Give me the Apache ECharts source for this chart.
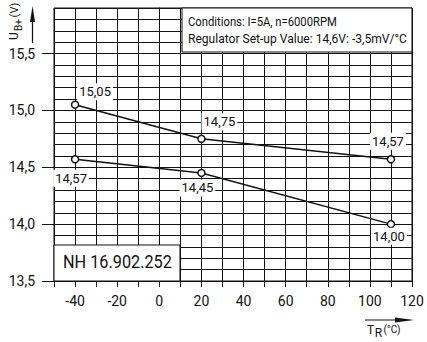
<!DOCTYPE html>
<html>
<head>
<meta charset="utf-8">
<script src="https://cdn.jsdelivr.net/npm/echarts@6/dist/echarts.min.js"></script>
<style>
  html, body { margin: 0; padding: 0; background: #fff; }
  #chart { width: 427px; height: 342px; }
</style>
</head>
<body>
<div id="chart"></div>
<script>
// values
const tempC = [-40, 20, 110];
const voltsUpper = [15.05, 14.75, 14.57];
const voltsLower = [14.57, 14.45, 14.00];
const yMajorTicks = [13.5, 14.0, 14.5, 15.0, 15.5];
const xLabelTicks = [-40, -20, 0, 20, 40, 60, 80, 100, 120];
const conditionLines = ['Conditions: I=5A, n=6000RPM', 'Regulator Set-up Value: 14,6V: -3,5mV/°C'];
const partNo = 'NH 16.902.252';

// label offsets (px) from each point
const upperOffsets = [[20, -13], [18, -17], [-3, -18]];
const lowerOffsets = [[-4, 19], [-4, 15], [-2, 12]];

const FONT = "Roboto, 'Liberation Sans', sans-serif";
const INK = '#111';

function comma(v, d) {
    return v.toFixed(d).replace('.', ',');
}

// squeeze a text horizontally so it spans a given width (drawing uses a narrow lettering)
const measureCtx = document.createElement('canvas').getContext('2d');
function squeeze(text, size, width) {
    measureCtx.font = size + 'px ' + FONT;
    return width / measureCtx.measureText(text).width;
}

function buildData(ys, offsets) {
    return tempC.map((x, i) => ({
        value: [x, ys[i]],
        label: { offset: offsets[i], formatter: comma(ys[i], 2) }
    }));
}

function lineSeries(name, ys, offsets) {
    return {
        name: name,
        type: 'line',
        data: buildData(ys, offsets),
        symbol: 'circle',
        symbolSize: 7,
        z: 5,
        lineStyle: { color: INK, width: 1.5 },
        itemStyle: { color: '#fff', borderColor: INK, borderWidth: 1.5 },
        label: {
            show: true,
            position: 'inside',
            align: 'center',
            verticalAlign: 'middle',
            fontFamily: FONT,
            fontSize: 13,
            color: INK,
            backgroundColor: '#fff',
            padding: [2, 2]
        }
    };
}

const chart = echarts.init(document.getElementById('chart'), null, { renderer: 'svg' });

const option = {
    animation: false,
    backgroundColor: '#fff',
    grid: { left: 54, right: 15, top: 8, bottom: 61, show: true, borderColor: INK, borderWidth: 1, backgroundColor: 'transparent' },
    xAxis: {
        type: 'value',
        min: -50,
        max: 120,
        interval: 10,
        axisLine: { lineStyle: { color: INK, width: 1 } },
        axisTick: { show: true, length: 6, inside: false, lineStyle: { color: INK } },
        axisLabel: {
            fontFamily: FONT, fontSize: 14, color: INK, margin: 13,
            formatter: v => (xLabelTicks.indexOf(v) >= 0 ? String(v) : '')
        },
        splitLine: { show: true, lineStyle: { color: INK, width: 1 } }
    },
    yAxis: [
        {
            type: 'value',
            min: 13.5,
            max: 15.9,
            interval: 0.1,
            axisLine: { show: true, lineStyle: { color: INK, width: 1 } },
            axisTick: { show: true, length: 4, lineStyle: { color: INK } },
            axisLabel: {
                fontFamily: FONT, fontSize: 14, color: INK, margin: 19,
                formatter: v => (yMajorTicks.some(t => Math.abs(t - v) < 1e-6) ? comma(v, 1) : '')
            },
            splitLine: { show: true, lineStyle: { color: INK, width: 1 } }
        },
        {
            type: 'value',
            position: 'left',
            min: 13.5,
            max: 15.9,
            interval: 0.5,
            axisLine: { show: false },
            axisTick: { show: true, length: 12, customValues: yMajorTicks, lineStyle: { color: INK } },
            axisLabel: { show: false },
            splitLine: { show: false }
        }
    ],
    series: [
        lineSeries('upper', voltsUpper, upperOffsets),
        lineSeries('lower', voltsLower, lowerOffsets)
    ],
    graphic: [
        // conditions box
        {
            type: 'rect', z: 100,
            shape: { x: 182, y: 8, width: 230, height: 44 },
            style: { fill: '#fff', stroke: INK, lineWidth: 1 }
        },
        {
            type: 'text', z: 101, x: 188, y: 22, scaleX: squeeze(conditionLines[0], 13, 149),
            style: { text: conditionLines[0], font: '13px ' + FONT, fill: INK, textVerticalAlign: 'middle' }
        },
        {
            type: 'text', z: 101, x: 188, y: 38, scaleX: squeeze(conditionLines[1], 13, 219),
            style: { text: conditionLines[1], font: '13px ' + FONT, fill: INK, textVerticalAlign: 'middle' }
        },
        // part number box
        {
            type: 'rect', z: 100,
            shape: { x: 54, y: 245, width: 126, height: 36 },
            style: { fill: '#fff', stroke: INK, lineWidth: 1 }
        },
        {
            type: 'text', z: 101, x: 63, y: 262, scaleX: squeeze(partNo, 18, 109),
            style: { text: partNo, font: '18px ' + FONT, fill: INK, textVerticalAlign: 'middle' }
        },
        // y axis name + arrow
        {
            type: 'line', z: 100,
            shape: { x1: 32.5, y1: 43, x2: 32.5, y2: 18 },
            style: { stroke: INK, lineWidth: 1.2 }
        },
        {
            type: 'polygon', z: 100,
            shape: { points: [[32.5, 6], [30, 22], [35, 22]] },
            style: { fill: INK }
        },
        {
            type: 'text', z: 101, x: 14, y: 36, rotation: Math.PI / 2,
            style: { text: 'U', font: '12px ' + FONT, fill: INK, textAlign: 'center', textVerticalAlign: 'middle' }
        },
        {
            type: 'text', z: 101, x: 18.5, y: 25, rotation: Math.PI / 2,
            style: { text: 'B+', font: '10px ' + FONT, fill: INK, textAlign: 'center', textVerticalAlign: 'middle' }
        },
        {
            type: 'text', z: 101, x: 14, y: 10, rotation: Math.PI / 2,
            style: { text: '(V)', font: '11px ' + FONT, fill: INK, textAlign: 'center', textVerticalAlign: 'middle' }
        },
        // x axis name + arrow
        {
            type: 'line', z: 100,
            shape: { x1: 365, y1: 320, x2: 400, y2: 320 },
            style: { stroke: INK, lineWidth: 1.2 }
        },
        {
            type: 'polygon', z: 100,
            shape: { points: [[414, 320], [395, 317.5], [395, 322.5]] },
            style: { fill: INK }
        },
        {
            type: 'text', z: 101, x: 370.5, y: 330,
            style: { text: 'T', font: '12px ' + FONT, fill: INK, textAlign: 'center', textVerticalAlign: 'middle' }
        },
        {
            type: 'text', z: 101, x: 378.5, y: 332.5,
            style: { text: 'R', font: '12px ' + FONT, fill: INK, textAlign: 'center', textVerticalAlign: 'middle' }
        },
        {
            type: 'text', z: 101, x: 392, y: 329,
            style: { text: '(°C)', font: '10px ' + FONT, fill: INK, textAlign: 'center', textVerticalAlign: 'middle' }
        }
    ]
};

chart.setOption(option);
</script>
</body>
</html>
